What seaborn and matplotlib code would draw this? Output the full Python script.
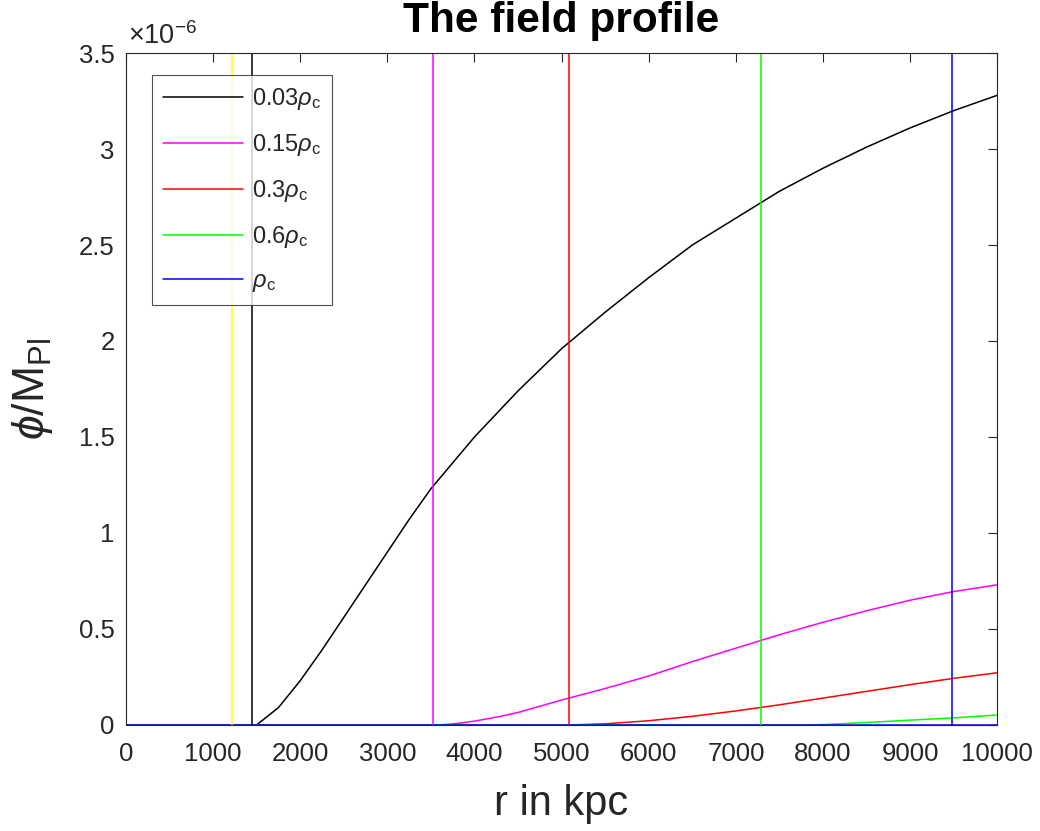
import matplotlib
matplotlib.use("Agg")
import matplotlib.pyplot as plt
import matplotlib.ticker as mticker
import numpy as np
import pandas as pd
import seaborn as sns

# field profile phi/M_Pl (in units of 1e-6) vs r in kpc
r_003 = [0, 1450, 1500, 1750, 2000, 2250, 2500, 2750, 3000, 3250, 3500, 4000, 4500,
         5000, 5500, 6000, 6500, 7000, 7500, 8000, 8500, 9000, 9500, 10000]
phi_003 = [0, 0, 0, 0.09, 0.23, 0.39, 0.56, 0.73, 0.90, 1.07, 1.23, 1.50, 1.74,
           1.96, 2.15, 2.33, 2.50, 2.64, 2.78, 2.90, 3.01, 3.11, 3.20, 3.28]

r_015 = [0, 3550, 3750, 4000, 4300, 4500, 5000, 5500, 6000, 6500, 7000, 7500, 8000,
         8500, 9000, 9500, 10000]
phi_015 = [0, 0, 0.005, 0.02, 0.045, 0.065, 0.13, 0.19, 0.255, 0.33, 0.40, 0.47, 0.535,
           0.595, 0.65, 0.695, 0.73]

r_03 = [0, 5100, 5500, 6000, 6500, 7000, 7500, 8000, 8500, 9000, 9500, 10000]
phi_03 = [0, 0, 0.006, 0.022, 0.045, 0.073, 0.105, 0.14, 0.175, 0.21, 0.243, 0.272]

r_06 = [0, 7800, 8000, 8500, 9000, 9500, 10000]
phi_06 = [0, 0, 0.002, 0.013, 0.025, 0.037, 0.052]

r_1 = [0, 10000]
phi_1 = [0, 0]

labels = [r'0.03$\rho_{\rm c}$', r'0.15$\rho_{\rm c}$', r'0.3$\rho_{\rm c}$',
          r'0.6$\rho_{\rm c}$', r'$\rho_{\rm c}$']
colors = ['#000000', '#FF00FF', '#FF0000', '#00FF00', '#0000FF']

# vertical marker lines (kpc)
vline_r = [1220, 1450, 3520, 5080, 7290, 9480]
vline_colors = ['#FFFF00', '#000000', '#FF00FF', '#FF0000', '#00FF00', '#0000FF']

series = [(r_003, phi_003), (r_015, phi_015), (r_03, phi_03), (r_06, phi_06), (r_1, phi_1)]
frames = []
for lab, (rr, pp) in zip(labels, series):
    frames.append(pd.DataFrame({'r': rr, 'phi': np.array(pp) * 1e-6, 'rho': lab}))
df = pd.concat(frames, ignore_index=True)

sns.set_style("white")
plt.rcParams['font.family'] = ['Liberation Sans', 'DejaVu Sans']
plt.rcParams['mathtext.fontset'] = 'custom'
plt.rcParams['mathtext.rm'] = 'Liberation Sans'
plt.rcParams['mathtext.it'] = 'Liberation Sans:italic'

fig = plt.figure(figsize=(10.4, 8.31), dpi=100)
ax = fig.add_axes([0.121, 0.1276, 0.838, 0.8086])

sns.lineplot(data=df, x='r', y='phi', hue='rho', palette=dict(zip(labels, colors)),
             hue_order=labels, sort=False, estimator=None, linewidth=1.1, ax=ax)

for xv, c in zip(vline_r, vline_colors):
    ax.axvline(xv, color=c, linewidth=1.1)

ax.set_xlim(0, 10000)
ax.set_ylim(0, 3.5e-6)
ax.set_xticks(np.arange(0, 10001, 1000))
ax.set_yticks(np.arange(0, 3.51e-6, 0.5e-6))
ax.yaxis.set_major_formatter(mticker.FuncFormatter(lambda v, _: f'{v * 1e6:g}'))
ax.text(0.003, 1.004, r'$\times10^{-6}$', transform=ax.transAxes, ha='left', va='bottom',
        fontsize=19.5, color='#262626')

ax.tick_params(direction='in', length=6.5, width=0.8, colors='#262626', labelsize=18.5,
               top=True, right=True)
ax.tick_params(axis='x', pad=12)
ax.tick_params(axis='y', pad=8)
for s in ax.spines.values():
    s.set_color('#262626')
    s.set_linewidth(0.8)

ax.set_title('The field profile', fontsize=30.5, fontweight='bold', color='black', pad=15)
ax.set_xlabel('r in kpc', fontsize=30, color='#262626', labelpad=13)
ax.set_ylabel(r'$\phi$/M$_{\rm Pl}$', fontsize=32, color='#262626', labelpad=17)

leg = ax.legend(loc='upper left', bbox_to_anchor=(0.03, 0.967), borderaxespad=0,
                fontsize=17, frameon=True, fancybox=False, edgecolor='#262626',
                handlelength=3.4, labelspacing=0.85, borderpad=0.45, handletextpad=0.4)
leg.get_frame().set_linewidth(0.8)

fig.savefig('out.png', dpi=100)
plt.close(fig)
